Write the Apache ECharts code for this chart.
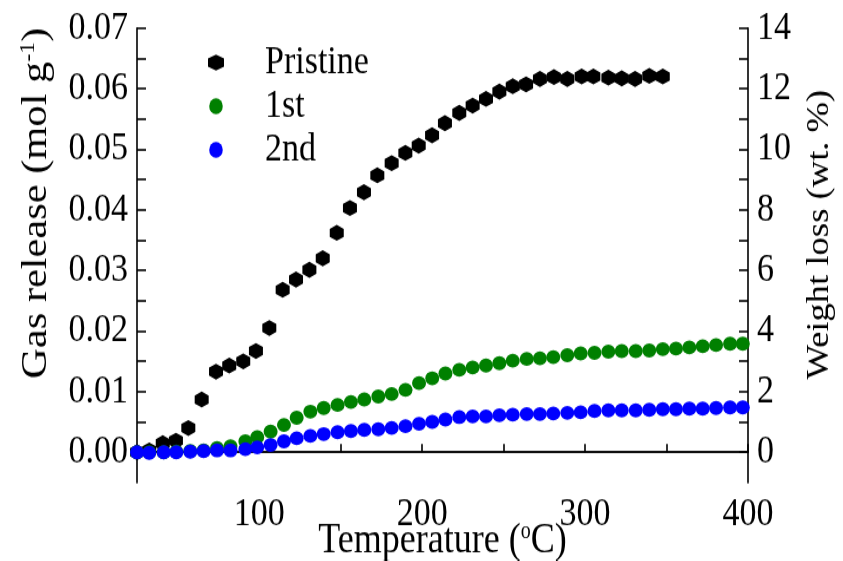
<!DOCTYPE html>
<html>
<head>
<meta charset="utf-8">
<script src="https://cdn.jsdelivr.net/npm/echarts@6/dist/echarts.min.js"></script>
<style>
html,body{margin:0;padding:0;background:#fff;overflow:hidden;width:843px;height:561px;}
#c{width:843px;height:475.4px;transform:scaleY(1.18);transform-origin:0 0;}
</style>
</head>
<body>
<div id="c"></div>
<script>
// Temperatures (°C)
var tempPristine = [25, 32.5, 40.8, 48.9, 56.5, 64.7, 73.5, 81.6, 90.2, 98.0, 106.2, 114.4, 122.6, 130.8, 139.0, 147.6, 155.7, 164.3, 172.5, 181.3, 189.7, 197.9, 206.1, 214.0, 222.8, 231.0, 239.2, 247.4, 255.6, 263.8, 272.3, 280.9, 289.1, 297.9, 305.1, 314.3, 322.5, 330.7, 339.4, 347.7];
var gasPristine = [0.0000, 0.0003, 0.0015, 0.0019, 0.0040, 0.0087, 0.0133, 0.0143, 0.0150, 0.0167, 0.0205, 0.0268, 0.0285, 0.0301, 0.0320, 0.0362, 0.0403, 0.0429, 0.0457, 0.0477, 0.0494, 0.0506, 0.0523, 0.0543, 0.0560, 0.0572, 0.0583, 0.0595, 0.0604, 0.0607, 0.0616, 0.0619, 0.0616, 0.0620, 0.0620, 0.0618, 0.0617, 0.0616, 0.0621, 0.0620];

var tempCycle = [25, 32.5, 41.4, 49.1, 57.7, 65.9, 74.1, 82.4, 91.5, 98.8, 107.0, 115.2, 123.0, 131.4, 139.6, 148.1, 156.3, 164.5, 173.1, 181.3, 189.8, 198.1, 206.2, 214.3, 222.8, 231.0, 239.2, 247.4, 255.6, 264.2, 272.3, 280.5, 289.1, 297.3, 305.8, 314.3, 322.5, 331.1, 339.4, 347.7, 355.8, 364.0, 372.2, 380.4, 389.0, 396.8];
var gasFirst = [0.0000, 0.0000, 0.0000, 0.0001, 0.0002, 0.0003, 0.0007, 0.0010, 0.0018, 0.0025, 0.0034, 0.0045, 0.0057, 0.0067, 0.0073, 0.0078, 0.0083, 0.0087, 0.0092, 0.0096, 0.0103, 0.0114, 0.0122, 0.0130, 0.0136, 0.0140, 0.0143, 0.0147, 0.0151, 0.0154, 0.0155, 0.0157, 0.0160, 0.0163, 0.0164, 0.0166, 0.0167, 0.0167, 0.0168, 0.0170, 0.0171, 0.0173, 0.0175, 0.0177, 0.0179, 0.0179];
var gasSecond = [0.0000, -0.0001, 0.0000, 0.0000, 0.0001, 0.0002, 0.0003, 0.0003, 0.0005, 0.0008, 0.0012, 0.0018, 0.0023, 0.0027, 0.0030, 0.0033, 0.0035, 0.0037, 0.0038, 0.0040, 0.0043, 0.0047, 0.0050, 0.0054, 0.0058, 0.0059, 0.0059, 0.0061, 0.0062, 0.0063, 0.0063, 0.0064, 0.0065, 0.0066, 0.0068, 0.0069, 0.0069, 0.0069, 0.0070, 0.0071, 0.0071, 0.0072, 0.0072, 0.0073, 0.0074, 0.0074];

var seriesNames = ['Pristine', '1st', '2nd'];
var seriesColors = ['#000000', '#008000', '#0000ff'];

// Axis ticks and labels
var xTicks = [50, 100, 150, 200, 250, 300, 350, 400];
var xLabels = [100, 200, 300, 400];
var leftTicks = [0, 0.005, 0.01, 0.015, 0.02, 0.025, 0.03, 0.035, 0.04, 0.045, 0.05, 0.055, 0.06, 0.065, 0.07];
var leftLabels = [0, 0.01, 0.02, 0.03, 0.04, 0.05, 0.06, 0.07];
var rightTicks = [0, 1, 2, 3, 4, 5, 6, 7, 8, 9, 10, 11, 12, 13, 14];
var rightLabels = [0, 2, 4, 6, 8, 10, 12, 14];

function pairs(xs, ys) { return xs.map(function (x, i) { return [x, ys[i]]; }); }

var SY = 1.18; // vertical stretch of the whole picture (applied by CSS)
var FONT = 'Liberation Serif';
var hexagon = 'path://M0,-1 L0.866,-0.5 L0.866,0.5 L0,1 L-0.866,0.5 L-0.866,-0.5 Z';
var axisLine = { show: true, lineStyle: { color: '#000', width: 1.6 } };
var tickStyle = { color: '#000', width: 1.6 };

var chart = echarts.init(document.getElementById('c'), null, { renderer: 'canvas' });
chart.setOption({
  animation: false,
  backgroundColor: '#fff',
  grid: { left: 137, right: 95, top: 28 / SY, bottom: 66.1, show: false, outerBoundsMode: 'none', containLabel: false },
  legend: {
    orient: 'vertical',
    left: 203, top: 31,
    itemWidth: 16, itemHeight: 16 / SY, itemGap: 3,
    symbolKeepAspect: false,
    textStyle: { fontFamily: FONT, fontSize: 34, color: '#000', padding: [0, 0, 0, 36] },
    data: [
      { name: seriesNames[0], icon: hexagon },
      { name: seriesNames[1], icon: 'circle' },
      { name: seriesNames[2], icon: 'circle' }
    ]
  },
  xAxis: [{
    type: 'value', min: 25, max: 400,
    position: 'bottom',
    name: 'Temperature ({sup|o}C)',
    nameLocation: 'middle', nameGap: 32, nameMoveOverlap: false,
    nameTextStyle: { fontFamily: FONT, fontSize: 36, color: '#000',
      rich: { sup: { fontFamily: FONT, fontSize: 20, verticalAlign: 'top', color: '#000' } } },
    axisLine: axisLine,
    axisTick: { show: true, inside: true, length: 7, customValues: xTicks, lineStyle: tickStyle },
    axisLabel: { customValues: xLabels, fontFamily: FONT, fontSize: 34, color: '#000', margin: 10 },
    splitLine: { show: false }
  }, {
    type: 'value', min: 25, max: 400, position: 'top',
    axisLine: axisLine, axisTick: { show: false }, axisLabel: { show: false }, splitLine: { show: false }
  }],
  yAxis: [{
    type: 'value', min: -0.005, max: 0.07, position: 'left',
    name: 'Gas release (mol g{sup|-1})',
    nameLocation: 'middle', nameGap: 82, nameRotate: 90, nameMoveOverlap: false,
    nameTextStyle: { fontFamily: FONT, fontSize: 36, color: '#000', padding: [0, 0, 0, 88],
      rich: { sup: { fontFamily: FONT, fontSize: 20, verticalAlign: 'top', color: '#000' } } },
    axisLine: axisLine,
    axisTick: { show: true, inside: true, length: 9, customValues: leftTicks, lineStyle: tickStyle },
    axisLabel: { customValues: leftLabels, fontFamily: FONT, fontSize: 34, color: '#000', margin: 9,
      formatter: function (v) { return v.toFixed(2); } },
    splitLine: { show: false }
  }, {
    type: 'value', min: -1, max: 14, position: 'right',
    name: 'Weight loss (wt. %)',
    nameLocation: 'middle', nameGap: 56, nameRotate: 90, nameMoveOverlap: false,
    nameTextStyle: { fontFamily: FONT, fontSize: 31, color: '#000', padding: [0, 0, 0, 35] },
    axisLine: axisLine,
    axisTick: { show: true, inside: true, length: 9, customValues: rightTicks, lineStyle: tickStyle },
    axisLabel: { customValues: rightLabels, fontFamily: FONT, fontSize: 34, color: '#000', margin: 9 },
    splitLine: { show: false }
  }],
  series: [{
    name: seriesNames[0], type: 'scatter', symbol: hexagon, symbolSize: [14, 16 / SY],
    itemStyle: { color: seriesColors[0], opacity: 1 },
    data: pairs(tempPristine, gasPristine)
  }, {
    name: seriesNames[1], type: 'scatter', symbol: 'circle', symbolSize: [14, 14 / SY],
    itemStyle: { color: seriesColors[1], opacity: 1 },
    data: pairs(tempCycle, gasFirst)
  }, {
    name: seriesNames[2], type: 'scatter', symbol: 'circle', symbolSize: [14, 14 / SY],
    itemStyle: { color: seriesColors[2], opacity: 1 },
    data: pairs(tempCycle, gasSecond)
  }]
});
</script>
</body>
</html>
